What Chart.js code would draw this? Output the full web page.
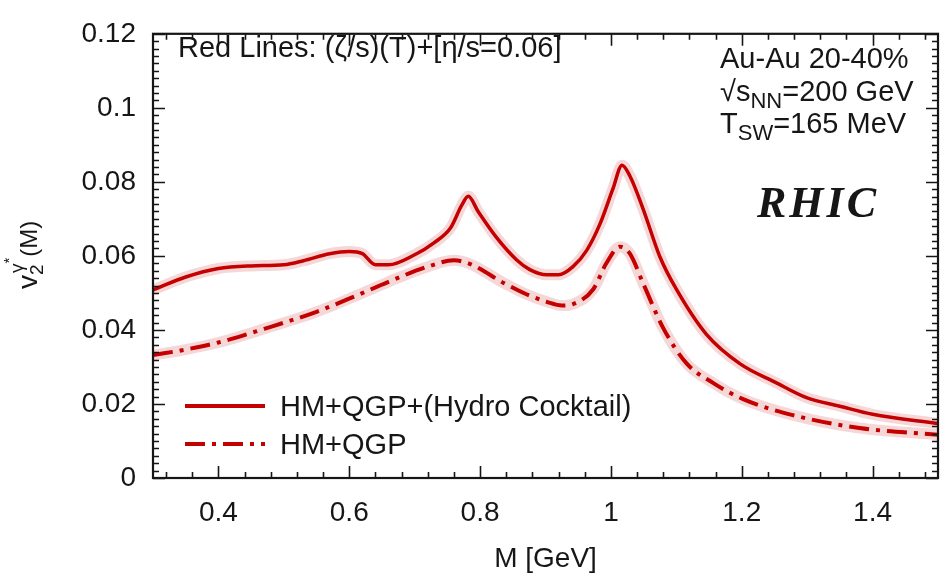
<!DOCTYPE html>
<html>
<head>
<meta charset="utf-8">
<script src="https://cdn.jsdelivr.net/npm/chart.js@4.4.1/dist/chart.umd.min.js"></script>
<style>
  body { margin: 0; background: #fff; }
  #wrap { width: 940px; height: 576px; }
</style>
</head>
<body>
<div id="wrap"><canvas id="v2chart" width="940" height="576"></canvas></div>
<script>
// HM+QGP+(Hydro Cocktail), solid line
var massFull = [0.30, 0.35, 0.40, 0.45, 0.50, 0.53, 0.57, 0.60, 0.62, 0.64, 0.66, 0.70, 0.73, 0.755, 0.772, 0.782, 0.797, 0.825, 0.856, 0.876, 0.902, 0.920, 0.942, 0.963, 0.983, 1.003, 1.017, 1.029, 1.049, 1.075, 1.100, 1.146, 1.197, 1.253, 1.299, 1.35, 1.40, 1.50];
var v2Full = [0.0508, 0.0543, 0.0566, 0.0573, 0.0576, 0.0587, 0.0606, 0.0612, 0.0606, 0.0576, 0.0576, 0.0603, 0.0636, 0.0676, 0.0737, 0.0761, 0.0720, 0.0650, 0.0589, 0.0563, 0.0549, 0.0549, 0.0571, 0.0615, 0.0685, 0.0781, 0.0845, 0.0816, 0.0728, 0.0597, 0.0510, 0.0388, 0.0309, 0.0257, 0.0217, 0.0194, 0.0172, 0.0147];

// HM+QGP, dash-dot line
var massCore = [0.30, 0.35, 0.40, 0.47, 0.55, 0.61, 0.66, 0.72, 0.76, 0.785, 0.836, 0.87, 0.902, 0.925, 0.942, 0.973, 0.993, 1.014, 1.029, 1.049, 1.080, 1.116, 1.156, 1.202, 1.278, 1.38, 1.50];
var v2Core = [0.0332, 0.0347, 0.0366, 0.0403, 0.0449, 0.0492, 0.0530, 0.0571, 0.0588, 0.0578, 0.0527, 0.0497, 0.0476, 0.0466, 0.0470, 0.0510, 0.0580, 0.0625, 0.0606, 0.0527, 0.0405, 0.0309, 0.0257, 0.0213, 0.0170, 0.0135, 0.0117];

var seriesLabels = ['HM+QGP+(Hydro Cocktail)', 'HM+QGP'];
var xTickValues = [0.4, 0.6, 0.8, 1, 1.2, 1.4];
var yTickValues = [0, 0.02, 0.04, 0.06, 0.08, 0.1, 0.12];
var xMinorStep = 0.04;
var yMinorStep = 0.002;

var red = '#c40000';
var band = 'rgba(205, 40, 40, 0.19)';
var ink = '#161616';
var fontName = '"Liberation Sans", Arial, sans-serif';

function toPoints(xs, ys) {
    var pts = [];
    for (var i = 0; i < xs.length; i++) pts.push({x: xs[i], y: ys[i]});
    return pts;
}

// draws a run of text pieces (normal / sub / sup) starting at x, baseline y
function drawPieces(ctx, x, y, pieces) {
    ctx.textBaseline = 'alphabetic';
    ctx.textAlign = 'left';
    var pos = x;
    for (var i = 0; i < pieces.length; i++) {
        var p = pieces[i];
        ctx.font = p.size + 'px ' + fontName;
        ctx.fillText(p.t, pos, y + (p.dy || 0));
        pos += ctx.measureText(p.t).width;
    }
    return pos;
}

var decorPlugin = {
    id: 'decor',
    afterDraw: function(chart) {
        var ctx = chart.ctx;
        var a = chart.chartArea;
        var xs = chart.scales.x, ys = chart.scales.y;
        ctx.save();

        // minor + major ticks, inward on all four sides
        ctx.strokeStyle = ink;
        ctx.lineWidth = 1.6;
        ctx.beginPath();
        var n, v, px, len;
        for (n = 0; ; n++) {
            v = 0.28 + n * xMinorStep;
            if (v > 1.5 + 1e-9) break;
            if (v < 0.3 - 1e-9) continue;
            px = Math.round(xs.getPixelForValue(v)) + 0.5;
            len = xTickValues.some(function(t) { return Math.abs(t - v) < 1e-6; }) ? 12 : 6;
            ctx.moveTo(px, a.bottom); ctx.lineTo(px, a.bottom - len);
            ctx.moveTo(px, a.top); ctx.lineTo(px, a.top + len);
        }
        for (n = 0; ; n++) {
            v = n * yMinorStep;
            if (v > 0.12 + 1e-9) break;
            px = Math.round(ys.getPixelForValue(v)) + 0.5;
            len = yTickValues.some(function(t) { return Math.abs(t - v) < 1e-6; }) ? 12 : 6;
            ctx.moveTo(a.left, px); ctx.lineTo(a.left + len, px);
            ctx.moveTo(a.right, px); ctx.lineTo(a.right - len, px);
        }
        ctx.stroke();

        // frame
        ctx.lineWidth = 2.2;
        ctx.strokeRect(a.left, a.top, a.right - a.left, a.bottom - a.top);

        // legend (from the main datasets)
        var mains = chart.data.datasets.filter(function(d) { return d.isMain; });
        for (var i = 0; i < mains.length; i++) {
            var d = mains[i];
            var ly = 406 + i * 38;
            ctx.strokeStyle = d.borderColor;
            ctx.lineWidth = 4;
            ctx.setLineDash(d.borderDash || []);
            ctx.beginPath();
            ctx.moveTo(185, ly); ctx.lineTo(265, ly);
            ctx.stroke();
            ctx.setLineDash([]);
            ctx.fillStyle = ink;
            ctx.font = '29px ' + fontName;
            ctx.textBaseline = 'middle';
            ctx.textAlign = 'left';
            ctx.fillText(d.label, 280, ly + 2);
        }

        // annotations
        ctx.fillStyle = ink;
        drawPieces(ctx, 178, 57, [{t: 'Red Lines: (\u03B6/s)(T)+[\u03B7/s=0.06]', size: 29}]);
        drawPieces(ctx, 720, 68, [{t: 'Au-Au 20-40%', size: 29}]);
        drawPieces(ctx, 720, 101, [{t: '\u221As', size: 29}, {t: 'NN', size: 22, dy: 7}, {t: '=200 GeV', size: 29}]);
        drawPieces(ctx, 720, 133, [{t: 'T', size: 29}, {t: 'SW', size: 22, dy: 7}, {t: '=165 MeV', size: 29}]);

        ctx.font = 'italic bold 44px "Liberation Serif", "DejaVu Serif", serif';
        ctx.letterSpacing = '3px';
        ctx.textBaseline = 'alphabetic';
        ctx.fillText('RHIC', 757, 217);
        ctx.letterSpacing = '0px';

        // rotated y title: v_2^{gamma*}(M)
        ctx.save();
        ctx.translate(37, 289);
        ctx.rotate(-Math.PI / 2);
        var p = drawPieces(ctx, 0, 0, [{t: 'v', size: 28}]);
        ctx.font = '19px ' + fontName;
        ctx.fillText('2', p, 6);
        var w2 = ctx.measureText('2').width;
        ctx.fillText('\u03B3', p + 2, -14);
        var wg = ctx.measureText('\u03B3').width;
        ctx.font = '15px ' + fontName;
        ctx.fillText('*', p + 2 + wg, -23);
        var ws = ctx.measureText('*').width;
        drawPieces(ctx, p + Math.max(w2, wg + ws) + 3, 0, [{t: '(M)', size: 24}]);
        ctx.restore();

        ctx.restore();
    }
};

var ctx = document.getElementById('v2chart').getContext('2d');
var v2Chart = new Chart(ctx, {
    type: 'line',
    data: {
        datasets: [{
            label: seriesLabels[0],
            isMain: true,
            data: toPoints(massFull, v2Full),
            borderColor: red,
            borderWidth: 3.5,
            order: 1
        }, {
            label: seriesLabels[1],
            isMain: true,
            data: toPoints(massCore, v2Core),
            borderColor: red,
            borderWidth: 4,
            borderDash: [20, 7, 4, 7],
            order: 1
        }, {
            label: 'band1',
            data: toPoints(massFull, v2Full),
            borderColor: band,
            borderWidth: 11,
            order: 2
        }, {
            label: 'band2',
            data: toPoints(massCore, v2Core),
            borderColor: band,
            borderWidth: 11,
            order: 2
        }]
    },
    options: {
        responsive: false,
        animation: false,
        events: [],
        layout: { padding: { top: 20, right: 2, left: 0, bottom: 0 } },
        elements: {
            point: { radius: 0 },
            line: { cubicInterpolationMode: 'monotone', fill: false, borderCapStyle: 'butt' }
        },
        plugins: { legend: { display: false }, tooltip: { enabled: false } },
        scales: {
            x: {
                type: 'linear',
                min: 0.3,
                max: 1.5,
                grid: { display: false, drawTicks: false },
                border: { display: false },
                afterBuildTicks: function(scale) {
                    scale.ticks = xTickValues.map(function(v) { return {value: v}; });
                },
                afterFit: function(scale) { scale.height = 98; },
                ticks: {
                    color: ink,
                    font: { size: 28, family: fontName },
                    padding: 18,
                    maxRotation: 0,
                    autoSkip: false,
                    callback: function(v) { return String(v); }
                },
                title: {
                    display: true,
                    text: 'M [GeV]',
                    color: ink,
                    font: { size: 28, family: fontName },
                    padding: { top: 0, bottom: 0 }
                }
            },
            y: {
                type: 'linear',
                min: 0,
                max: 0.12,
                grid: { display: false, drawTicks: false },
                border: { display: false },
                afterBuildTicks: function(scale) {
                    scale.ticks = yTickValues.map(function(v) { return {value: v}; });
                },
                afterFit: function(scale) { scale.width = 153; },
                ticks: {
                    color: ink,
                    font: { size: 28, family: fontName },
                    padding: 17,
                    autoSkip: false,
                    callback: function(v) { return String(v); }
                }
            }
        }
    },
    plugins: [decorPlugin]
});
</script>
</body>
</html>
